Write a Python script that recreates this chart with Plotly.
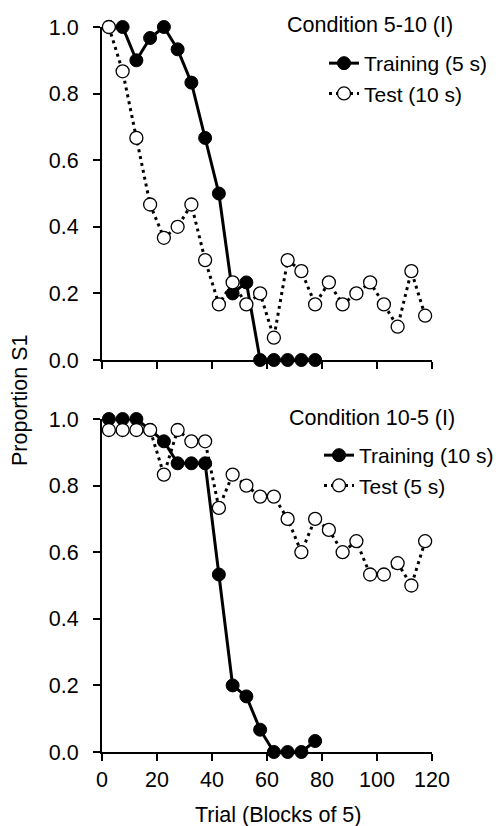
import plotly.graph_objects as go

# ---- data ----
trial_x = [2.5, 7.5, 12.5, 17.5, 22.5, 27.5, 32.5, 37.5, 42.5, 47.5, 52.5, 57.5,
           62.5, 67.5, 72.5, 77.5, 82.5, 87.5, 92.5, 97.5, 102.5, 107.5, 112.5, 117.5]

# Condition 5-10 (I)
train_5_10 = [1.0, 1.0, 0.90, 0.967, 1.0, 0.933, 0.833, 0.667, 0.50, 0.20, 0.233, 0.0,
              0.0, 0.0, 0.0, 0.0]
test_5_10 = [1.0, 0.867, 0.667, 0.467, 0.367, 0.40, 0.467, 0.30, 0.167, 0.233, 0.167, 0.20,
             0.067, 0.30, 0.267, 0.167, 0.233, 0.167, 0.20, 0.233, 0.167, 0.10, 0.267, 0.133]

# Condition 10-5 (I)
train_10_5 = [1.0, 1.0, 1.0, 0.967, 0.933, 0.867, 0.867, 0.867, 0.533, 0.20, 0.167, 0.067,
              0.0, 0.0, 0.0, 0.033]
test_10_5 = [0.967, 0.967, 0.967, 0.967, 0.833, 0.967, 0.933, 0.933, 0.733, 0.833, 0.80, 0.767,
             0.767, 0.70, 0.60, 0.70, 0.667, 0.60, 0.633, 0.533, 0.533, 0.567, 0.50, 0.633]

x_ticks = [0, 20, 40, 60, 80, 100, 120]
y_ticks = [0.0, 0.2, 0.4, 0.6, 0.8, 1.0]

FONT = "Liberation Sans, Arial, sans-serif"
FS = 21.5

fig = go.Figure()

def add_pair(xa, ya, train, test, train_name, test_name, legend):
    fig.add_trace(go.Scatter(
        x=trial_x[:len(train)], y=train, mode="lines+markers", name=train_name,
        xaxis=xa, yaxis=ya, legend=legend, cliponaxis=False,
        line=dict(color="black", width=3),
        marker=dict(symbol="circle", size=13, color="black",
                    line=dict(color="black", width=1)),
    ))
    fig.add_trace(go.Scatter(
        x=trial_x[:len(test)], y=test, mode="lines+markers", name=test_name,
        xaxis=xa, yaxis=ya, legend=legend, cliponaxis=False,
        line=dict(color="black", width=3, dash="3px,4px"),
        marker=dict(symbol="circle", size=13, color="white",
                    line=dict(color="black", width=1.3)),
    ))

add_pair("x", "y", train_5_10, test_5_10, "Training (5 s)", "Test (10 s)", "legend")
add_pair("x2", "y2", train_10_5, test_10_5, "Training (10 s)", "Test (5 s)", "legend2")

axis_common = dict(
    showline=True, linecolor="black", linewidth=2,
    ticks="outside", ticklen=7, tickwidth=2, tickcolor="black",
    showgrid=False, zeroline=False,
    tickfont=dict(family=FONT, size=FS, color="black"),
)

# page has an 8px body margin: figure is placed at (8, 8) in the window
OFF = 8
W, H = 501 - OFF, 826 - OFF
L, R, T, B = 102 - OFF, 69, 27 - OFF, 74
ph = H - T - B
top_dom = [1 - 333 / ph, 1]
bot_dom = [0, 333 / ph]

def px_x(p):  # window pixel -> paper x
    return (p - OFF - L) / (W - L - R)

def px_y(p):  # window pixel -> paper y
    return 1 - (p - OFF - T) / ph

txt = dict(family=FONT, size=FS, color="black")
legtxt = dict(family=FONT, size=21, color="black")

fig.update_layout(
    width=W, height=H,
    margin=dict(l=L, r=R, t=T, b=B, autoexpand=False),
    plot_bgcolor="white", paper_bgcolor="white",
    font=txt,
    showlegend=True,
    xaxis=dict(axis_common, range=[0, 120], tickvals=x_ticks, showticklabels=False,
               anchor="y", domain=[0, 1]),
    yaxis=dict(axis_common, range=[0, 1.0], tickvals=y_ticks, tickformat=".1f",
               domain=top_dom, anchor="x", ticklabelstandoff=10),
    xaxis2=dict(axis_common, range=[0, 120], tickvals=x_ticks, anchor="y2", domain=[0, 1]),
    yaxis2=dict(axis_common, range=[0, 1.0], tickvals=y_ticks, tickformat=".1f",
                domain=bot_dom, anchor="x2", ticklabelstandoff=10),
    legend=dict(x=px_x(324), y=px_y(43), xanchor="left", yanchor="top",
                bgcolor="rgba(0,0,0,0)", font=legtxt, tracegroupgap=0),
    legend2=dict(x=px_x(319), y=px_y(435), xanchor="left", yanchor="top",
                 bgcolor="rgba(0,0,0,0)", font=legtxt, tracegroupgap=0),
    annotations=[
        dict(text="Condition 5-10 (I)", x=px_x(370), y=px_y(25), xref="paper", yref="paper",
             xanchor="center", yanchor="middle", showarrow=False, font=txt),
        dict(text="Condition 10-5 (I)", x=px_x(372), y=px_y(418), xref="paper", yref="paper",
             xanchor="center", yanchor="middle", showarrow=False, font=txt),
        dict(text="Proportion S1", x=px_x(20), y=px_y(401), xref="paper", yref="paper",
             xanchor="center", yanchor="middle", showarrow=False, textangle=-90, font=txt),
        dict(text="Trial (Blocks of 5)", x=px_x(278), y=px_y(815), xref="paper", yref="paper",
             xanchor="center", yanchor="middle", showarrow=False, font=txt),
    ],
)

fig.write_html("out.html")
